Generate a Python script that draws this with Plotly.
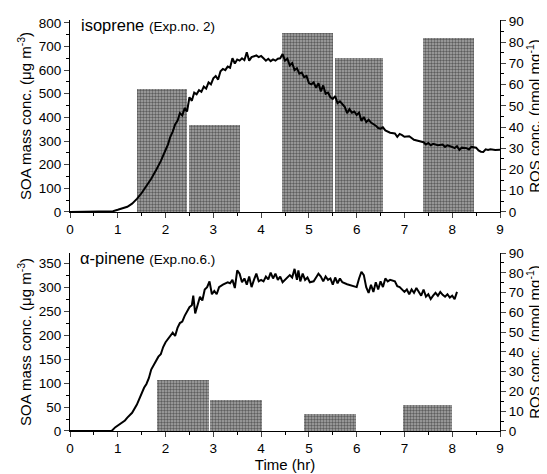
import plotly.graph_objects as go

# ---------------- data ----------------
# isoprene (Exp.no. 2) SOA mass concentration (ug m^-3)
iso_t = [0, 0.8, 0.9, 1.0, 1.1, 1.2, 1.3, 1.4, 1.5, 1.6, 1.7, 1.8, 1.9, 2.0, 2.05, 2.1, 2.15, 2.2,
         2.25, 2.3, 2.35, 2.4, 2.45, 2.5, 2.55, 2.6, 2.65, 2.7, 2.75, 2.8, 2.85, 2.9, 2.95, 3.0,
         3.05, 3.1, 3.15, 3.2, 3.25, 3.3, 3.35, 3.4, 3.45, 3.5, 3.55, 3.6, 3.65, 3.7, 3.75, 3.8,
         3.85, 3.9, 3.95, 4.0, 4.05, 4.1, 4.15, 4.2, 4.25, 4.3, 4.35, 4.4, 4.45, 4.5, 4.55, 4.6,
         4.65, 4.7, 4.75, 4.8, 4.85, 4.9, 4.95, 5.0, 5.05, 5.1, 5.15, 5.2, 5.25, 5.3, 5.35, 5.4,
         5.45, 5.5, 5.55, 5.6, 5.65, 5.7, 5.75, 5.8, 5.85, 5.9, 5.95, 6.0, 6.05, 6.1, 6.15, 6.2,
         6.25, 6.3, 6.35, 6.4, 6.45, 6.5, 6.55, 6.6, 6.7, 6.8, 6.85, 6.9, 6.95, 7.0, 7.1, 7.2,
         7.3, 7.4, 7.45, 7.5, 7.55, 7.6, 7.7, 7.8, 7.85, 7.9, 8.0, 8.05, 8.1, 8.15, 8.2, 8.3,
         8.35, 8.4, 8.5, 8.55, 8.6, 8.65, 8.7, 8.75, 8.8, 8.9, 9.0]
iso_soa = [0, 0, 3, 9, 14, 22, 35, 55, 80, 108, 140, 176, 215, 262, 285, 318, 340, 370,
           385, 418, 408, 440, 425, 485, 470, 505, 498, 515, 508, 530, 522, 548, 540, 565,
           575, 560, 595, 605, 600, 615, 610, 650, 628, 645, 640, 650, 642, 675, 640, 655,
           660, 662, 655, 660, 650, 640, 648, 638, 645, 640, 648, 650, 668, 640, 648, 620,
           630, 600, 608, 585, 590, 570, 575, 545, 540, 548, 525, 545, 510, 535, 500, 505,
           485, 478, 490, 460, 468, 455, 445, 418, 435, 420, 425, 410, 420, 385, 402, 380,
           390, 378, 372, 365, 355, 352, 358, 345, 335, 332, 318, 330, 325, 318, 320, 305,
           300, 295, 285, 292, 282, 288, 282, 285, 275, 282, 275, 270, 278, 262, 272, 270,
           264, 275, 272, 260, 255, 254, 265, 262, 265, 262, 263]

# isoprene ROS concentration (nmol mg^-1) per sampling interval (hr)
iso_ros_start = [1.40, 2.49, 4.44, 5.54, 7.39]
iso_ros_end = [2.45, 3.56, 5.50, 6.55, 8.45]
iso_ros = [58, 41, 84.3, 72.6, 81.7]

# alpha-pinene (Exp.no.6.) SOA mass concentration (ug m^-3)
api_t = [0, 0.87, 0.95, 1.0, 1.05, 1.1, 1.15, 1.2, 1.3, 1.4, 1.45, 1.5, 1.55, 1.6, 1.65, 1.7,
         1.75, 1.8, 1.85, 1.9, 1.95, 2.0, 2.05, 2.1, 2.15, 2.2, 2.25, 2.3, 2.35, 2.4, 2.45, 2.5,
         2.55, 2.58, 2.62, 2.67, 2.72, 2.77, 2.82, 2.87, 2.92, 2.97, 3.02, 3.07, 3.12, 3.2, 3.3,
         3.35, 3.4, 3.45, 3.5, 3.55, 3.6, 3.65, 3.7, 3.75, 3.8, 3.85, 3.9, 3.95, 4.0, 4.05, 4.1,
         4.15, 4.2, 4.25, 4.3, 4.35, 4.4, 4.45, 4.5, 4.55, 4.6, 4.65, 4.7, 4.75, 4.78, 4.82, 4.87,
         4.92, 4.97, 5.02, 5.1, 5.15, 5.2, 5.25, 5.3, 5.35, 5.4, 5.45, 5.5, 5.55, 5.6, 5.65, 5.7,
         5.8, 5.9, 6.0, 6.05, 6.1, 6.15, 6.2, 6.25, 6.3, 6.35, 6.4, 6.45, 6.5, 6.55, 6.6, 6.65,
         6.7, 6.8, 6.85, 6.9, 7.0, 7.05, 7.1, 7.15, 7.2, 7.25, 7.3, 7.35, 7.4, 7.45, 7.5, 7.55,
         7.6, 7.65, 7.7, 7.75, 7.8, 7.85, 7.9, 7.95, 8.0, 8.05, 8.1]
api_soa = [0, 0, 8, 12, 14, 18, 22, 28, 38, 55, 68, 78, 90, 98, 110, 128,
           138, 148, 155, 160, 175, 185, 192, 200, 205, 198, 215, 225, 228, 240, 248, 258,
           262, 282, 245, 262, 280, 272, 295, 300, 312, 285, 292, 285, 300, 305, 310,
           308, 315, 298, 335, 328, 310, 318, 305, 322, 300, 315, 328, 312, 315, 312, 322,
           316, 330, 318, 328, 315, 322, 310, 315, 318, 325, 320, 338, 315, 335, 312, 328,
           315, 320, 310, 312, 320, 328, 322, 312, 322, 315, 318, 305, 320, 308, 318, 310,
           306, 303, 300, 318, 332, 325, 300, 288, 305, 290, 310, 295, 312, 300, 318, 312,
           315, 312, 302, 300, 290, 295, 285, 295, 288, 298, 290, 282, 295, 280, 285, 275,
           282, 288, 282, 290, 284, 280, 285, 278, 282, 275, 290]

api_ros_start = [1.83, 2.93, 4.90, 6.97]
api_ros_end = [2.91, 4.01, 5.98, 7.99]
api_ros = [25.9, 15.6, 8.4, 13.0]

x_ticks = [0, 1, 2, 3, 4, 5, 6, 7, 8, 9]

# ---------------- figure ----------------
FONT = "Liberation Sans, Arial, sans-serif"
pattern = dict(shape=".", fgcolor="#111111", bgcolor="#a8a8a8", size=3, solidity=0.5)


def centers(s, e):
    return [(a + b) / 2 for a, b in zip(s, e)]


def widths(s, e):
    return [b - a for a, b in zip(s, e)]


fig = go.Figure()

fig.add_trace(go.Bar(x=centers(iso_ros_start, iso_ros_end), y=iso_ros,
                     width=widths(iso_ros_start, iso_ros_end),
                     xaxis="x", yaxis="y",
                     marker=dict(color="#a8a8a8", line=dict(width=0), pattern=pattern),
                     showlegend=False))
fig.add_trace(go.Scatter(x=iso_t, y=iso_soa, mode="lines", xaxis="x", yaxis="y2",
                         line=dict(color="black", width=2), showlegend=False))

fig.add_trace(go.Bar(x=centers(api_ros_start, api_ros_end), y=api_ros,
                     width=widths(api_ros_start, api_ros_end),
                     xaxis="x2", yaxis="y3",
                     marker=dict(color="#a8a8a8", line=dict(width=0), pattern=pattern),
                     showlegend=False))
fig.add_trace(go.Scatter(x=api_t, y=api_soa, mode="lines", xaxis="x2", yaxis="y4",
                         line=dict(color="black", width=2), showlegend=False))

tickfont = dict(family=FONT, size=13.5, color="black")
titlefont = dict(family=FONT, size=15, color="black")

xcommon = dict(range=[0, 9], tickvals=x_ticks, ticks="outside", ticklen=5, tickwidth=1,
               showline=True, linecolor="black", linewidth=1, showgrid=False, zeroline=False,
               automargin=False,
               tickfont=tickfont, minor=dict(ticks="outside", ticklen=3, dtick=0.5,
                                             tickcolor="black", showgrid=False))

TOP = [0.533, 1.0]
BOT = [0.0, 0.433]


def yax(rng, dtick, minor, side, title, **kw):
    d = dict(range=rng, dtick=dtick, tick0=0, ticks="outside", ticklen=5, tickwidth=1,
             showline=True, linecolor="black", linewidth=1, showgrid=False, zeroline=False,
             tickfont=tickfont, side=side, automargin=False,
             minor=dict(ticks="outside", ticklen=3, dtick=minor, tickcolor="black",
                        showgrid=False),
             title=dict(text=title, font=titlefont, standoff=3))
    d.update(kw)
    return d


ROS_T = "ROS conc. (nmol mg<sup>-1</sup>)"
SOA_T = "SOA mass conc. (μg m<sup>-3</sup>)"

# the page body adds an 8 px margin, so the figure is 8 px smaller and shifted margins
fig.update_layout(
    width=539, height=466,
    margin=dict(l=62, r=47, t=12, b=43),
    paper_bgcolor="white", plot_bgcolor="rgba(0,0,0,0)",
    bargap=0,
    xaxis=dict(xcommon, domain=[0, 1], anchor="y"),
    xaxis2=dict(xcommon, domain=[0, 1], anchor="y3",
                title=dict(text="Time (hr)", font=titlefont, standoff=2)),
    yaxis=yax([0, 90.4], 10, 5, "right", ROS_T, domain=TOP, anchor="x"),
    yaxis2=yax([0, 812], 100, 50, "left", SOA_T, overlaying="y", anchor="x"),
    yaxis3=yax([0, 90], 10, 5, "right", ROS_T, domain=BOT, anchor="x2"),
    yaxis4=yax([0, 371], 50, 25, "left", SOA_T, overlaying="y3", anchor="x2"),
    annotations=[
        dict(text="isoprene <span style='font-size:13.5px'>(Exp.no. 2)</span>",
             xref="x", yref="y2", x=0.19, y=790, xanchor="left", yanchor="middle",
             showarrow=False, font=dict(family=FONT, size=16.5, color="black")),
        dict(text="α-pinene <span style='font-size:13.5px'>(Exp.no.6.)</span>",
             xref="x2", yref="y4", x=0.17, y=360, xanchor="left", yanchor="middle",
             showarrow=False, font=dict(family=FONT, size=16.5, color="black")),
    ],
)

fig.write_html("out.html")
